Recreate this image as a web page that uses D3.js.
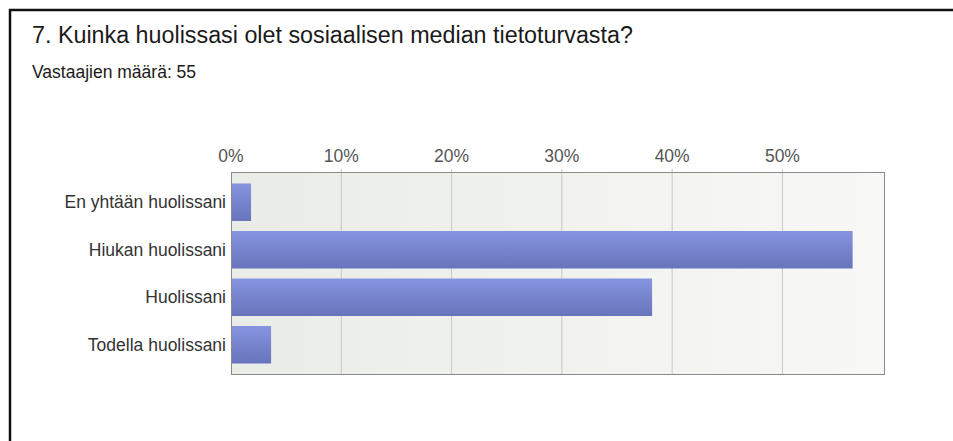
<!DOCTYPE html>
<html>
<head>
<meta charset="utf-8">
<script src="https://cdn.jsdelivr.net/npm/d3@7"></script>
<style>
  body { margin: 0; background: #fff; overflow: hidden; }
  svg { display: block; }
  text { font-family: "Liberation Sans", Arial, sans-serif; }
</style>
</head>
<body>
<div id="chart"></div>
<script>
// data
let categories = ["En yhtään huolissani", "Hiukan huolissani", "Huolissani", "Todella huolissani"];
let counts = [1, 31, 21, 2];
let respondents = 55;
let tickValues = [0, 0.1, 0.2, 0.3, 0.4, 0.5];

let W = 953, H = 441;
let plot = {left: 231, right: 885, top: 172, bottom: 375};

let svg = d3.select("#chart")
  .append("svg")
  .attr("width", W)
  .attr("height", H);

let defs = svg.append("defs");
let bg = defs.append("linearGradient").attr("id", "bg").attr("x1", 0).attr("x2", 1).attr("y1", 0).attr("y2", 0);
bg.append("stop").attr("offset", "0%").attr("stop-color", "#eaece7");
bg.append("stop").attr("offset", "100%").attr("stop-color", "#f8f9f6");
let barGrad = defs.append("linearGradient").attr("id", "bar").attr("x1", 0).attr("x2", 0).attr("y1", 0).attr("y2", 1);
barGrad.append("stop").attr("offset", "0%").attr("stop-color", "#8794e0");
barGrad.append("stop").attr("offset", "100%").attr("stop-color", "#6874bb");

// frame (top + left only)
svg.append("path")
  .attr("d", `M10,${H} V10 H${W}`)
  .attr("fill", "none")
  .attr("stroke", "#111")
  .attr("stroke-width", 2.5);

// title
svg.append("text")
  .attr("x", 32).attr("y", 43)
  .attr("font-size", 23.3).attr("fill", "#1a1a1a")
  .text("7. Kuinka huolissasi olet sosiaalisen median tietoturvasta?");
svg.append("text")
  .attr("x", 32).attr("y", 78)
  .attr("font-size", 17.5).attr("fill", "#1a1a1a")
  .text("Vastaajien määrä: " + respondents);

let data = categories.map((c, i) => ({cat: c, value: counts[i] / respondents}));

let x = d3.scaleLinear()
  .domain([0, 0.593])
  .range([plot.left, plot.right]);

let y = d3.scaleBand()
  .domain(categories)
  .range([plot.top, plot.bottom])
  .paddingInner(0.21)
  .paddingOuter(0.242);

// plot background
svg.append("rect")
  .attr("x", plot.left).attr("y", plot.top)
  .attr("width", plot.right - plot.left).attr("height", plot.bottom - plot.top)
  .attr("fill", "url(#bg)");

// gridlines + top ticks
svg.selectAll(".grid")
  .data(tickValues.slice(1))
  .enter()
  .append("line")
  .attr("x1", d => x(d)).attr("x2", d => x(d))
  .attr("y1", plot.top - 3).attr("y2", plot.bottom)
  .attr("stroke", "#c8c8c8")
  .attr("stroke-width", 1);

// top axis labels
svg.selectAll(".tick-label")
  .data(tickValues)
  .enter()
  .append("text")
  .attr("x", d => x(d))
  .attr("y", 162)
  .attr("text-anchor", "middle")
  .attr("font-size", 17.5)
  .attr("fill", "#555")
  .text(d => d3.format(".0%")(d));

// bars
svg.selectAll(".bar")
  .data(data)
  .enter()
  .append("rect")
  .attr("x", x(0))
  .attr("y", d => y(d.cat))
  .attr("width", d => x(d.value) - x(0))
  .attr("height", y.bandwidth())
  .attr("fill", "url(#bar)");

// category labels
svg.selectAll(".cat-label")
  .data(data)
  .enter()
  .append("text")
  .attr("x", plot.left - 5)
  .attr("y", d => y(d.cat) + y.bandwidth() / 2)
  .attr("dy", "0.35em")
  .attr("text-anchor", "end")
  .attr("font-size", 17.5)
  .attr("fill", "#333")
  .text(d => d.cat);

// plot border
svg.append("rect")
  .attr("x", plot.left + 0.5).attr("y", plot.top + 0.5)
  .attr("width", plot.right - plot.left - 1).attr("height", plot.bottom - plot.top - 1)
  .attr("fill", "none")
  .attr("stroke", "#8a8a8a");
</script>
</body>
</html>
